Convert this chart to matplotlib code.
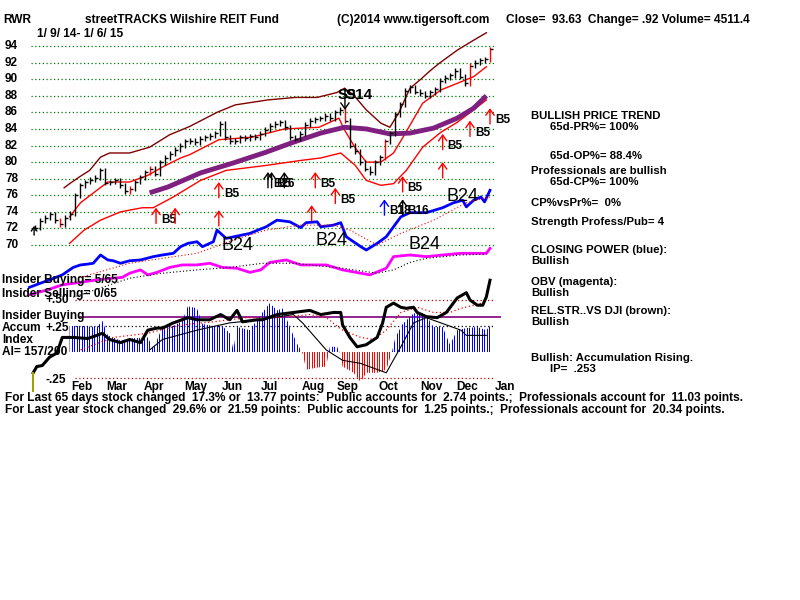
import numpy as np
import matplotlib
matplotlib.use("Agg")
import matplotlib.pyplot as plt
from matplotlib.path import Path
from matplotlib.patches import PathPatch

plt.rcParams['font.family'] = ['Liberation Sans', 'DejaVu Sans']

# --- price (one sample every ~2.75 trading days, 1/9/14 - 1/6/15)
close = [72.1, 72.9, 73.3, 73.7, 73.0, 72.5, 73.3, 73.8, 76.0, 77.2,
         77.6, 77.9, 78.1, 79.0, 77.5, 77.6, 77.8, 77.2, 76.5, 76.8,
         77.6, 78.2, 78.8, 79.2, 78.6, 80.0, 80.5, 81.0, 81.5, 82.0,
         82.5, 82.6, 82.4, 82.8, 83.0, 83.2, 83.5, 84.6, 83.0, 82.5,
         82.6, 83.0, 82.9, 83.1, 83.0, 83.4, 83.9, 84.4, 84.6, 84.8,
         84.2, 83.0, 82.8, 83.4, 84.5, 85.0, 85.2, 85.3, 85.6, 85.3,
         86.0, 86.3, 85.0, 82.0, 81.3, 80.0, 79.2, 78.8, 80.0, 80.6,
         82.5, 83.5, 85.8, 87.0, 88.6, 89.0, 88.5, 88.3, 88.0, 88.4,
         88.8, 89.8, 90.2, 90.5, 91.0, 90.3, 89.5, 91.6, 92.0, 92.3,
         92.4, 93.6]
red_bars = [5, 19, 23, 62, 70, 87, 91]

# bands and moving average (trading day, price)
upper_days = [16, 19, 25, 30, 36, 41, 52, 63, 74, 85, 100, 110, 128, 143, 155,
              166, 170, 175, 182, 190, 195, 200, 206, 212, 217, 222, 232, 241, 248]
upper = [76.9, 77.4, 78.3, 79.0, 80.6, 81.1, 81.1, 81.8, 83.3, 84.3, 86.0, 86.9,
         87.5, 87.8, 87.8, 88.4, 88.9, 88.1, 86.3, 84.7, 84.2, 86.0, 88.9, 90.0,
         91.0, 91.9, 93.5, 94.7, 95.6]
inner_days = [19, 25, 34, 40, 52, 62, 70, 80, 85, 101, 119, 137, 156, 167, 170,
              176, 182, 190, 197, 203, 213, 223, 232, 241, 248]
inner = [73.4, 75.1, 76.6, 77.6, 77.6, 78.4, 79.4, 80.5, 80.9, 82.7, 83.0, 84.0,
         84.2, 85.3, 83.9, 81.7, 80.0, 80.0, 81.1, 83.3, 87.1, 88.7, 89.5, 90.3, 91.5]
outer_days = [19, 27, 36, 47, 59, 65, 76, 91, 105, 127, 146, 157, 168, 176, 182,
              190, 197, 204, 213, 223, 232, 241, 248]
outer = [70.2, 71.8, 73.0, 74.0, 74.5, 74.5, 75.8, 77.8, 79.0, 79.6, 80.2, 80.5,
         81.1, 79.6, 77.8, 77.2, 77.4, 79.0, 81.8, 83.6, 84.8, 86.3, 87.5]
ma_days = [63, 73, 91, 109, 127, 142, 157, 170, 182, 195, 206, 219, 232, 241, 248]
ma = [76.3, 77.0, 78.7, 79.9, 81.2, 82.4, 83.5, 84.2, 84.0, 83.4, 83.5, 84.1,
      85.3, 86.5, 88.0]

# closing power (blue) and OBV (magenta), drawn in price-panel units
cp_days = [-3, 3, 8, 15, 21, 25, 29, 32, 36, 40, 43, 47, 52, 58, 65, 70, 76, 80,
           84, 89, 92, 98, 100, 105, 118, 127, 133, 140, 146, 149, 155, 157, 164,
           168, 171, 179, 182, 188, 193, 197, 201, 206, 215, 224, 230, 235, 237,
           241, 245, 247, 250]
cp = [64.9, 65.4, 65.8, 66.4, 67.3, 67.6, 67.7, 67.8, 68.8, 68.2, 68.1, 67.8,
      68.1, 68.2, 68.6, 68.8, 69.0, 69.8, 70.2, 70.4, 69.8, 70.4, 71.8, 70.8,
      71.4, 72.2, 73.0, 72.8, 72.1, 72.7, 72.8, 72.2, 72.4, 72.7, 71.0, 69.8,
      69.4, 70.2, 71.0, 72.2, 73.4, 73.9, 73.9, 74.5, 75.1, 75.4, 74.6, 75.4,
      75.8, 75.2, 76.6]
cp_ma_days = [25, 52, 70, 89, 109, 127, 146, 164, 173, 188, 201, 219, 237, 250]
cp_ma = [66.1, 67.8, 68.4, 69.0, 70.6, 71.8, 72.4, 72.4, 71.8, 70.0, 71.4, 73.0,
         75.1, 75.8]
obv_days = [-3, 7, 15, 25, 34, 43, 48, 52, 58, 62, 67, 74, 81, 89, 96, 103, 111,
            118, 124, 129, 138, 146, 160, 169, 179, 184, 193, 197, 206, 215, 224,
            234, 243, 248, 250]
obv = [64.0, 64.6, 65.2, 65.5, 65.8, 66.0, 66.1, 66.6, 67.0, 66.4, 66.7, 67.3,
       67.6, 67.6, 67.8, 67.3, 67.2, 66.7, 67.0, 67.9, 68.2, 67.6, 67.6, 67.0,
       66.6, 66.4, 67.2, 68.6, 68.8, 68.6, 68.8, 69.0, 69.0, 69.0, 69.6]
obv_ma_days = [21, 52, 70, 89, 107, 125, 142, 169, 188, 197, 206, 215, 234, 248]
obv_ma = [63.7, 66.0, 66.6, 67.0, 67.3, 67.8, 67.8, 67.2, 66.6, 67.0, 67.9,
          68.4, 68.8, 68.9]

# signals on the price panel
sig_days = [66.5, 77, 101, 101, 128, 130, 137, 154, 152, 165, 192, 202, 202,
            224, 224, 239, 250]
sig_tips = [74.5, 74.5, 77.6, 74.2, 78.8, 78.8, 78.8, 78.8, 74.8, 76.9, 75.5,
            75.5, 78.3, 80.0, 83.4, 85.0, 86.5]
sig_labels = ['B5', '', 'B5', '', 'B26', 'B5', '', 'B5', '', 'B5', 'B18', 'B16',
              'B5', '', 'B5', 'B5', 'B5']
sig_colors = ['red', 'red', 'red', 'red', 'black', 'black', 'black', 'red', 'red',
              'red', 'blue', 'black', 'red', 'red', 'red', 'red', 'red']
b24_days = [111.5, 163, 214, 235]
b24_vals = [70.0, 70.6, 70.1, 75.8]

# accumulation index panel
ai_days = [19, 25, 34, 37, 40, 47, 52, 62, 65, 70, 76, 81, 84, 89, 92, 98, 103,
           107, 109, 111, 118, 125, 129, 133, 136, 140, 144, 147, 149, 155, 160,
           162, 166, 168, 169, 175, 179, 182, 188, 193, 196, 198, 202, 208, 212,
           215, 219, 224, 228, 232, 237, 243, 248, 250]
ai = [0.25, 0.25, 0.24, 0.30, 0.16, 0.11, 0.13, 0.14, 0.03, 0.24, 0.25, 0.30,
      0.44, 0.42, 0.27, 0.25, 0.25, 0.18, 0.02, 0.24, 0.21, 0.38, 0.47, 0.40,
      0.42, 0.24, 0.08, -0.01, -0.17, -0.15, -0.14, 0.05, 0.05, -0.03, -0.14,
      -0.20, -0.29, -0.20, -0.20, -0.17, -0.01, 0.14, 0.27, 0.37, 0.38, 0.35,
      0.24, 0.24, 0.07, 0.21, 0.23, 0.24, 0.21, 0.25]
rs_days = [-1, 1, 4, 8, 12, 15, 21, 29, 34, 37, 41, 47, 52, 58, 62, 67, 70, 76,
           84, 89, 96, 102, 107, 111, 114, 122, 125, 133, 142, 151, 157, 164, 168,
           169, 173, 177, 182, 188, 191, 193, 197, 201, 204, 208, 210, 215, 221,
           226, 232, 237, 239, 243, 246, 248, 250]
rs = [-0.20, -0.14, -0.13, -0.05, -0.01, 0.14, 0.14, 0.13, 0.16, 0.18, 0.12,
      0.09, 0.12, 0.09, 0.21, 0.23, 0.23, 0.28, 0.33, 0.31, 0.31, 0.36, 0.31,
      0.40, 0.29, 0.31, 0.31, 0.36, 0.38, 0.40, 0.36, 0.38, 0.38, 0.26, 0.14,
      0.05, 0.07, 0.14, 0.28, 0.43, 0.47, 0.43, 0.42, 0.43, 0.38, 0.34, 0.33,
      0.38, 0.52, 0.57, 0.50, 0.45, 0.45, 0.53, 0.69]
ai_ma_days = [63, 70, 89, 107, 124, 142, 147, 160, 169, 179, 193, 201, 208, 215,
              223, 234, 237, 248]
ai_ma = [0.02, 0.12, 0.21, 0.28, 0.31, 0.36, 0.28, 0.02, -0.08, -0.11, -0.20,
         0.05, 0.28, 0.33, 0.28, 0.21, 0.16, 0.16]
rs_ma_days = [25, 43, 62, 80, 98, 116, 133, 151, 160, 169, 179, 186, 193, 201,
              210, 219, 228, 234, 241, 248]
rs_ma = [0.02, 0.14, 0.18, 0.26, 0.29, 0.33, 0.33, 0.36, 0.33, 0.21, 0.14, 0.12,
         0.21, 0.38, 0.43, 0.38, 0.38, 0.42, 0.45, 0.48]

months = ['Feb', 'Mar', 'Apr', 'May', 'Jun', 'Jul', 'Aug', 'Sep', 'Oct', 'Nov',
          'Dec', 'Jan']
month_days = [25.8, 45, 65.4, 88.5, 108.2, 128.6, 152.7, 172, 194, 218, 237.4, 258.2]
price_ticks = list(range(70, 96, 2))

fig = plt.figure(figsize=(8, 6), dpi=100)
ax = fig.add_axes([0, 0, 1, 1])
ax2 = fig.add_axes([0, 0, 1, 1])
for a in (ax, ax2):
    a.set_xlim(-35 / 1.82, 765 / 1.82)
    a.axis('off')
    a.patch.set_alpha(0)
ax.set_ylim(27.19, 99.55)
ax2.set_ylim(-2.385, 3.385)

dots = (0, (1, 2))

# price panel
ax.hlines(price_ticks, -2, 252, colors='green', linestyles=dots, lw=0.9)
for v in price_ticks:
    ax.text(5 / 800, v, str(v), transform=ax.get_yaxis_transform(),
            fontsize=8.5, fontweight='bold', va='center', ha='left')

ax.plot(upper_days, upper, color='#800000', lw=1)
ax.plot(inner_days, inner, color='red', lw=1)
ax.plot(outer_days, outer, color='red', lw=1)
ax.plot(ma_days, ma, color='#7f1f7f', lw=3.5, solid_capstyle='butt')

c = np.array(close)
x = np.linspace(0, 250, len(c))
prev = np.r_[c[0], c[:-1]]
bar_col = ['red' if i in red_bars else 'black' for i in range(len(c))]
ax.vlines(x, np.minimum(prev, c) - 0.3, np.maximum(prev, c) + 0.3, colors=bar_col, lw=1)
ax.plot(x, c, ls='none', marker=1, ms=2.5, mew=1, color='black')

ax.plot(cp_days, cp, color='blue', lw=2)
ax.plot(cp_ma_days, cp_ma, color='red', lw=0.8, ls=dots)
ax.plot(obv_days, obv, color='#ff00ff', lw=2)
ax.plot(obv_ma_days, obv_ma, color='black', lw=0.8, ls=dots)

arrow = '->,head_length=0.35,head_width=0.25'
for d, tip, lbl, col in zip(sig_days, sig_tips, sig_labels, sig_colors):
    ax.annotate('', xy=(d, tip), xytext=(d, tip - 1.9),
                arrowprops=dict(arrowstyle=arrow, color=col, lw=1,
                                shrinkA=0, shrinkB=0, mutation_scale=12))
    if lbl:
        ax.annotate(lbl, xy=(d, tip), xytext=(5, -12), textcoords='offset pixels',
                    fontsize=8.5, fontweight='bold', va='center', ha='left')
ax.annotate('', xy=(-0.5, 72.3), xytext=(-0.5, 71.2),
            arrowprops=dict(arrowstyle=arrow, color='black', lw=1,
                            shrinkA=0, shrinkB=0, mutation_scale=8))
# sell signal
ax.annotate('', xy=(170.3, 86.3), xytext=(170.3, 88.9),
            arrowprops=dict(arrowstyle=arrow, color='black', lw=1,
                            shrinkA=0, shrinkB=0, mutation_scale=12))
ax.text(166.5, 88.1, 'S9', fontsize=11, fontweight='bold', va='center', ha='left')
ax.text(170.9, 88.1, 'S14', fontsize=11, fontweight='bold', va='center', ha='left')
for d, v in zip(b24_days, b24_vals):
    ax.text(d, v, 'B24', fontsize=13, va='center', ha='center')

# accumulation panel
ax2.hlines([0.5, -0.25], 22, 252, colors='#c00000', linestyles=dots, lw=0.9)
ax2.hlines([0.25], 22, 252, colors='black', linestyles=dots, lw=0.9)
ax2.hlines([0.34], 24, 256, colors='#800080', lw=1.2)

# histogram: striped fill (1px lines every 2-3px), clipped to the area under AI
a_arr = np.array(ai)
stripes = (np.floor(np.arange(36, 496, 2.5)) + 0.5 - 35) / 1.82
for mask, col in ((a_arr >= 0, '#0000ff'), (a_arr <= 0, '#ff0000')):
    area = ax2.fill_between(ai_days, 0, a_arr, where=mask, interpolate=True,
                            facecolor='none', edgecolor='none')
    clip = PathPatch(Path.make_compound_path(*area.get_paths()),
                     transform=ax2.transData, facecolor='none', edgecolor='none')
    ax2.add_patch(clip)
    bars = ax2.vlines(stripes, -0.5, 0.6, colors=col, lw=0.72, antialiased=False)
    bars.set_clip_path(clip)

ax2.plot(ai_ma_days, ai_ma, color='black', lw=0.8)
ax2.plot(rs_ma_days, rs_ma, color='red', lw=0.9, ls=dots)
ax2.plot(rs_days, rs, color='black', lw=2.2)
ax2.vlines([-1], -0.38, -0.19, colors='#a0a000', lw=1.5)

for m, d in zip(months, month_days):
    ax2.text(d, -0.34, m, fontsize=8.6, fontweight='bold', ha='center', va='center')


def ftext(px, py, s, size=8.6, **kw):
    fig.text(px / 800, 1 - py / 600, s, fontsize=size, fontweight='bold',
             va='center', ha='left', **kw)


ftext(3, 20, 'RWR')
ftext(85, 20, 'streetTRACKS Wilshire REIT Fund')
ftext(337, 20, '(C)2014 www.tigersoft.com')
ftext(506, 20, 'Close=  93.63  Change= .92 Volume= 4511.4')
ftext(37, 34, '1/ 9/ 14- 1/ 6/ 15')

side = 8.2
ftext(531, 116, 'BULLISH PRICE TREND', side)
ftext(550, 127, '65d-PR%= 100%', side)
ftext(550, 156, '65d-OP%= 88.4%', side)
ftext(531, 171, 'Professionals are bullish', side)
ftext(550, 182, '65d-CP%= 100%', side)
ftext(531, 203, 'CP%vsPr%=  0%', side)
ftext(531, 222, 'Strength Profess/Pub= 4', side)
ftext(531, 250, 'CLOSING POWER (blue):', side)
ftext(531, 261, 'Bullish', side)
ftext(531, 282, 'OBV (magenta):', side)
ftext(531, 293, 'Bullish', side)
ftext(531, 311, 'REL.STR..VS DJI (brown):', side)
ftext(531, 322, 'Bullish', side)
ftext(531, 358, 'Bullish: Accumulation Rising.', side)
ftext(550, 369, 'IP=  .253', side)

ftext(2, 280, 'Insider Buying= 5/65')
ftext(2, 294, 'Insider Selling= 0/65')
ftext(46, 300, '+.50')
ftext(2, 316, 'Insider Buying')
ftext(2, 328, 'Accum')
ftext(46, 328, '+.25')
ftext(2, 340, 'Index')
ftext(2, 352, 'AI= 157/200')
ftext(46, 380, '-.25')

ftext(5, 398, 'For Last 65 days stock changed  17.3% or  13.77 points:  Public accounts for  2.74 points.;  Professionals account for  11.03 points.')
ftext(5, 410, 'For Last year stock changed  29.6% or  21.59 points:  Public accounts for  1.25 points.;  Professionals account for  20.34 points.')

fig.savefig('out.png', dpi=100, facecolor='white')
